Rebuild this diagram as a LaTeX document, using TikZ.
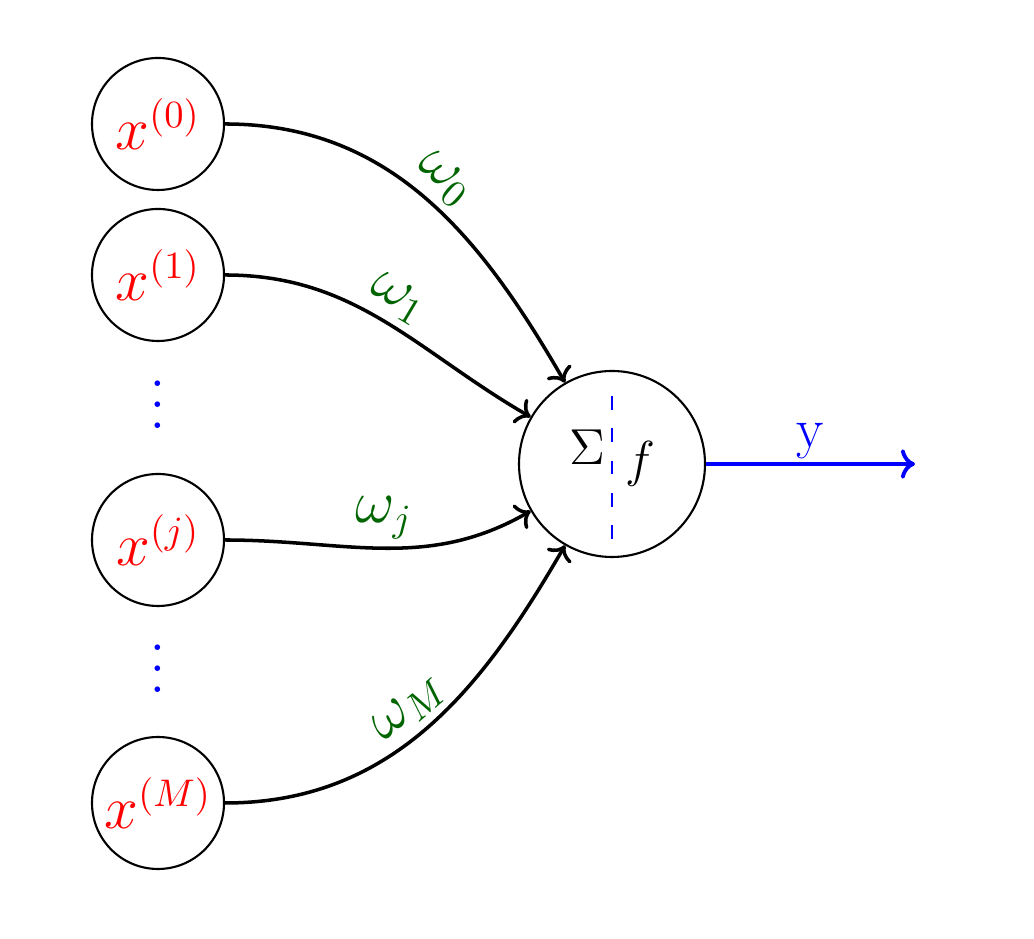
\documentclass[tikz,border=0pt]{standalone}
\usepackage{amsmath,amssymb}
\usetikzlibrary{arrows.meta,positioning}
\definecolor{WeightGreen}{RGB}{0,100,0}

\begin{document}
\begin{tikzpicture}[
      inNode/.style={draw,circle,line width=0.6pt,minimum size=1.32cm,inner sep=0pt,
                     text=red,font=\fontsize{16}{19}\selectfont},
      sumNode/.style={draw,circle,line width=0.6pt,minimum size=1.86cm,inner sep=0pt},
      dotsNode/.style={text=blue,scale=1.5},
      arIn/.style={-{To[scale=1.0]},line width=1pt},
      wLabel/.style={midway,above,sloped,inner sep=2pt,
                     font=\fontsize{16}{19}\selectfont,text=WeightGreen},
      arOut/.style={-{To[scale=1.0]},line width=1.1pt,blue},
      splitLine/.style={blue,line width=0.6pt,dash pattern=on 3.9pt off 5.3pt}
    ]
    \useasboundingbox (0,0) rectangle (10.34,9.39);

    % Input neurons
    \node(x0)[inNode] at (1.58,8.15) {$x^{(0)}$};
    \node(x1)[inNode] at (1.58,6.64) {$x^{(1)}$};
    \node(d1)[dotsNode] at (1.58,5.50) {$\vdots$};
    \node(xj)[inNode] at (1.58,3.99) {$x^{(j)}$};
    \node(d2)[dotsNode] at (1.58,2.86) {$\vdots$};
    \node(xM)[inNode] at (1.58,1.36) {$x^{(M)}$};

    % Summation and activation unit
    \node(nrn)[sumNode] at (6.12,4.75) {};
    \node(sig)[font=\Large] at ([shift={(-0.25,0.17)}]nrn.center) {$\Sigma$};
    \node(fn)[font=\Large] at ([shift={(0.28,0)}]nrn.center) {$f$};
    \draw[splitLine,shorten <=0.26cm,shorten >=0.17cm] (nrn.north) -- (nrn.south);

    % Weighted connections
    \draw[arIn] (x0) to[out=0,in=120] node[wLabel]{$\omega_0$} (nrn);
    \draw[arIn] (x1) to[out=0,in=150] node[wLabel]{$\omega_1$} (nrn);
    \draw[arIn] (xj) to[out=0,in=210] node[wLabel]{$\omega_j$} (nrn);
    \draw[arIn] (xM) to[out=0,in=240] node[wLabel]{$\omega_M$} (nrn);

    % Output
    \coordinate(yEnd) at (9.15,4.75);
    \draw[arOut] (nrn) -- node[above,inner sep=1pt,font=\fontsize{16}{19}\selectfont]{y} (yEnd);
  \end{tikzpicture}
\end{document}
